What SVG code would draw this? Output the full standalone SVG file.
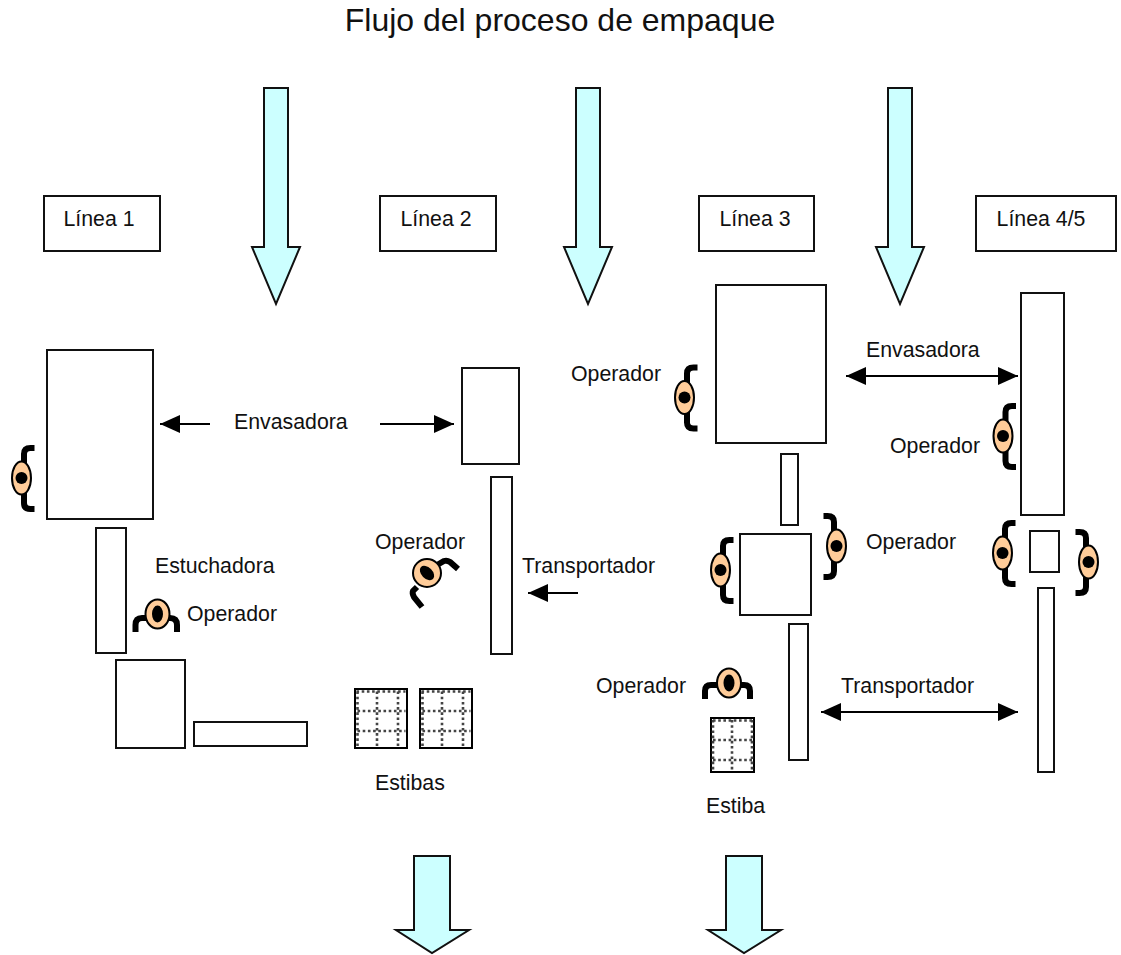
<svg xmlns="http://www.w3.org/2000/svg" width="1121" height="955" viewBox="0 0 1121 955">
<style>
text{font-family:"Liberation Sans",Arial,sans-serif;font-size:21.3px;fill:#111}
.t{font-size:32px}
.b{fill:#fff;stroke:#111;stroke-width:2}
.f{fill:#ccffff;stroke:#111;stroke-width:2;stroke-linejoin:miter}
.l{fill:none;stroke:#000;stroke-width:2}
.arm{fill:none;stroke:#000;stroke-width:6}
.e{fill:#ffcc99;stroke:#000;stroke-width:2}
.d{fill:none;stroke:#444;stroke-width:2.6;stroke-dasharray:2.600 2.600}
.p{fill:#fff;stroke:#000;stroke-width:2}
</style>
<defs>
<marker id="ah" markerUnits="userSpaceOnUse" markerWidth="22" markerHeight="20" refX="20" refY="10" orient="auto-start-reverse"><path d="M0 1L20 10L0 19Z" fill="#000"/></marker>
<g id="op"><path class="arm" d="M13-30H9Q2.500-30 2.500-24V-12M2.500 12V25Q2.500 31 9 31H13"/><ellipse class="e" cx="0" cy="0" rx="9.500" ry="16.500"/><circle cx="0" cy="0" r="6" fill="#000"/></g>
<g id="pal"><rect class="p" x="0" y="0" width="52" height="59"/><path class="d" d="M1.500 2.500H50.500M2.500 2.500V57M22 2.500V57M43 2.500V57M2.500 22H50.500M2.500 42H50.500"/></g>
</defs>
<text class="t" x="560" y="31" text-anchor="middle">Flujo del proceso de empaque</text>
<g id="flows">
<path id="flow1" class="f" d="M264 88H288V247H300L276 304L252 247H264Z"/>
<path id="flow2" class="f" d="M576 88H600V247H612L588 304L564 247H576Z"/>
<path id="flow3" class="f" d="M888 88H912V247H924L900 304L876 247H888Z"/>
<path id="flow4" class="f" d="M414 856H450V930H469L432 953L396 930H414Z"/>
<path id="flow5" class="f" d="M726 856H762V930H781L744 953L708 930H726Z"/>
</g>
<g id="linea1"><rect class="b" x="44" y="196" width="116" height="55"/><text x="99" y="226" text-anchor="middle">Línea 1</text></g>
<g id="linea2"><rect class="b" x="380" y="196" width="116" height="55"/><text x="436" y="226" text-anchor="middle">Línea 2</text></g>
<g id="linea3"><rect class="b" x="699" y="196" width="115" height="55"/><text x="755" y="226" text-anchor="middle">Línea 3</text></g>
<g id="linea45"><rect class="b" x="976" y="196" width="140" height="55"/><text x="1041" y="226" text-anchor="middle">Línea 4/5</text></g>
<g id="machines">
<rect id="m1" class="b" x="47" y="350" width="106" height="169"/>
<rect id="m2" class="b" x="96" y="528" width="30" height="125"/>
<rect id="m3" class="b" x="116" y="660" width="69" height="88"/>
<rect id="m4" class="b" x="194" y="722" width="113" height="24"/>
<rect id="m5" class="b" x="462" y="368" width="57" height="96"/>
<rect id="m6" class="b" x="491" y="477" width="21" height="177"/>
<rect id="m7" class="b" x="716" y="285" width="110" height="158"/>
<rect id="m8" class="b" x="781" y="454" width="17" height="71"/>
<rect id="m9" class="b" x="740" y="534" width="71" height="81"/>
<rect id="m10" class="b" x="789" y="624" width="19" height="136"/>
<rect id="m11" class="b" x="1021" y="293" width="43" height="222"/>
<rect id="m12" class="b" x="1030" y="531" width="29" height="41"/>
<rect id="m13" class="b" x="1038" y="588" width="16" height="184"/>
</g>
<g id="pallets">
<use id="pal1" href="#pal" x="355" y="689"/>
<use id="pal2" href="#pal" x="420" y="689"/>
<g id="pal3"><rect class="p" x="711" y="718" width="43" height="54"/><path class="d" d="M713 720.500H752M713 720V770M752 720V770M732 720V771M713 740H752M713 760H752"/></g>
</g>
<g id="operators">
<use id="op1" href="#op" transform="translate(21.500 478)"/>
<use id="op2" href="#op" transform="translate(684.500 397.500)"/>
<use id="op3" href="#op" transform="translate(1003 436)"/>
<use id="op4" href="#op" transform="translate(720.500 570)"/>
<use id="op5" href="#op" transform="translate(836.500 546) scale(-1 1)"/>
<use id="op6" href="#op" transform="translate(1002.500 553)"/>
<use id="op7" href="#op" transform="translate(1088.500 562) scale(-1 1)"/>
<g id="op8"><path class="arm" d="M135.500 632V625Q135.500 618 142 618H170Q177 618 177 625V632"/><ellipse class="e" cx="157.500" cy="614" rx="12" ry="14.500"/><ellipse cx="157.500" cy="614" rx="5.500" ry="8.500" fill="#000"/></g>
<g id="op9"><path class="arm" d="M705 699V691Q705 685 711 685H744Q750 685 750 691V699"/><ellipse class="e" cx="729" cy="683" rx="12" ry="14.500"/><ellipse cx="729" cy="683" rx="5.500" ry="8.500" fill="#000"/></g>
<g id="op10"><path class="arm" d="M437 565L444 561Q447 560 450 562L458 569M417 587L413 591Q412 593 414 597L422 607"/><circle class="e" cx="427" cy="573" r="14"/><ellipse cx="427" cy="573" rx="5.500" ry="8.500" fill="#000" transform="rotate(-45 427 573)"/></g>
</g>
<g id="connectors">
<path class="l" d="M210 424H160" marker-end="url(#ah)"/>
<path class="l" d="M380 424H454" marker-end="url(#ah)"/>
<path class="l" d="M578 593H528" marker-end="url(#ah)"/>
<path class="l" d="M846 376H1018" marker-start="url(#ah)" marker-end="url(#ah)"/>
<path class="l" d="M821 712H1018" marker-start="url(#ah)" marker-end="url(#ah)"/>
</g>
<g id="labels">
<text x="234" y="429">Envasadora</text>
<text x="155" y="573">Estuchadora</text>
<text x="187" y="621">Operador</text>
<text x="375" y="549">Operador</text>
<text x="522" y="573">Transportador</text>
<text x="375" y="790">Estibas</text>
<text x="571" y="381">Operador</text>
<text x="866" y="357">Envasadora</text>
<text x="890" y="453">Operador</text>
<text x="866" y="549">Operador</text>
<text x="596" y="693">Operador</text>
<text x="841" y="693">Transportador</text>
<text x="706" y="813">Estiba</text>
</g>
</svg>
